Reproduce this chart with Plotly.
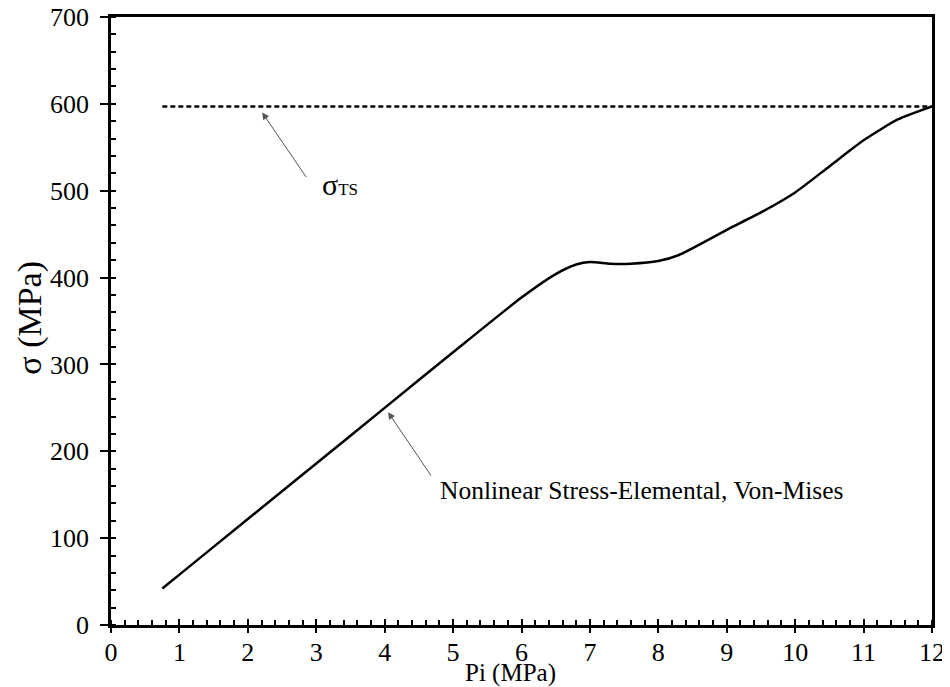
import plotly.graph_objects as go

# data
pi_mpa = [0.75, 1, 2, 3, 4, 5, 6, 6.5, 6.8, 7.0, 7.3, 7.6, 8.0, 8.3, 8.6, 9.0, 9.5, 10.0, 10.5, 11.0, 11.5, 12.0]
sigma_vm = [42, 58, 122, 186, 250, 314, 377, 404, 415, 418, 416, 416, 419, 426, 438, 455, 475, 498, 528, 558, 582, 597]

sigma_ts = 597
ts_x = [0.75, 12.0]

FONT = "Liberation Serif, Times New Roman, serif"

fig = go.Figure()

fig.add_trace(go.Scatter(
    x=pi_mpa, y=sigma_vm,
    mode="lines",
    line=dict(color="black", width=2.5, shape="spline", smoothing=0.6),
    showlegend=False,
))

fig.add_trace(go.Scatter(
    x=ts_x, y=[sigma_ts, sigma_ts],
    mode="lines",
    line=dict(color="black", width=2.5, dash="5px,3px"),
    showlegend=False,
))

# dummy trace so the overlay axes (inner half of the major ticks) get drawn
fig.add_trace(go.Scatter(x=[None], y=[None], xaxis="x2", yaxis="y2",
                         showlegend=False, hoverinfo="skip"))

tick_font = dict(family=FONT, size=26, color="black")

# the page body adds ~8px offset, so the figure is sized a bit smaller
fig.update_layout(
    width=942, height=679,
    margin=dict(l=103, r=18, t=9, b=62),
    paper_bgcolor="white",
    plot_bgcolor="white",
    font=dict(family=FONT, color="black"),
    xaxis=dict(
        range=[0, 12], dtick=1, showgrid=False, zeroline=False, automargin=False,
        showline=True, linecolor="black", linewidth=2.5, mirror=True,
        ticks="outside", ticklen=5, tickwidth=2, tickcolor="black",
        minor=dict(dtick=0.2, ticks="inside", ticklen=5, tickwidth=1.5, tickcolor="black"),
        tickfont=tick_font, ticklabelstandoff=-3, ticklabeloverflow="allow",
    ),
    yaxis=dict(
        range=[0, 700], dtick=100, showgrid=False, zeroline=False, automargin=False,
        showline=True, linecolor="black", linewidth=2.5, mirror=True,
        ticks="outside", ticklen=8, tickwidth=2, tickcolor="black",
        minor=dict(dtick=20, ticks="inside", ticklen=5, tickwidth=1.5, tickcolor="black"),
        tickfont=tick_font, ticklabelstandoff=6, ticklabeloverflow="allow",
    ),
    xaxis2=dict(
        range=[0, 12], dtick=1, overlaying="x", anchor="y", side="bottom", automargin=False,
        showgrid=False, zeroline=False, showline=False, showticklabels=False,
        ticks="inside", ticklen=6, tickwidth=2, tickcolor="black",
    ),
    yaxis2=dict(
        range=[0, 700], dtick=100, overlaying="y", anchor="x", side="left", automargin=False,
        showgrid=False, zeroline=False, showline=False, showticklabels=False,
        ticks="inside", ticklen=4, tickwidth=2, tickcolor="black",
    ),
)

# arrows
fig.add_annotation(x=2.21, y=590, ax=45, ay=66, xref="x", yref="y",
                   showarrow=True, arrowhead=2, arrowsize=1.4, arrowwidth=1,
                   arrowcolor="#555555", text="")
fig.add_annotation(x=4.05, y=245, ax=44, ay=65, xref="x", yref="y",
                   showarrow=True, arrowhead=2, arrowsize=1.4, arrowwidth=1,
                   arrowcolor="#555555", text="")

# labels
fig.add_annotation(x=3.06, y=507, xref="x", yref="y", showarrow=False,
                   xanchor="left", yanchor="middle",
                   text="σ<span style='font-size:17px'>TS</span>",
                   font=dict(family=FONT, size=30, color="black"))
fig.add_annotation(x=4.78, y=155, xref="x", yref="y", showarrow=False,
                   xanchor="left", yanchor="middle",
                   text="Nonlinear Stress-Elemental, Von-Mises",
                   font=dict(family=FONT, size=25.5, color="black"))

# axis titles
fig.add_annotation(x=0.486, y=-0.079, xref="paper", yref="paper", showarrow=False,
                   xanchor="center", yanchor="middle", text="Pi (MPa)",
                   font=dict(family=FONT, size=25, color="black"))
fig.add_annotation(x=-0.099, y=0.505, xref="paper", yref="paper", showarrow=False,
                   xanchor="center", yanchor="middle", textangle=-90,
                   text="σ (MPa)", font=dict(family=FONT, size=34, color="black"))

fig.write_html("out.html")
